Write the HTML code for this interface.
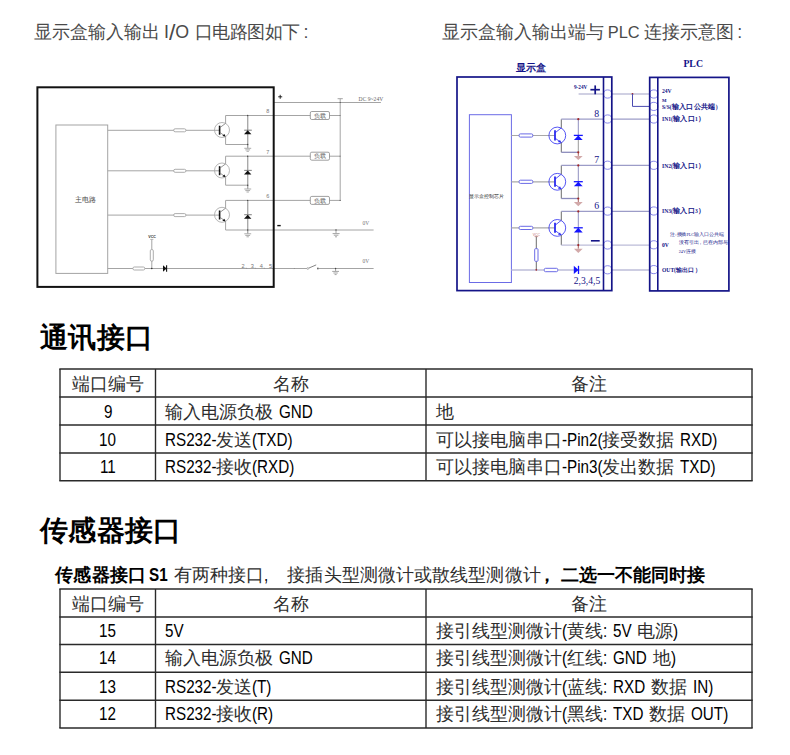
<!DOCTYPE html>
<html><head><meta charset="utf-8">
<style>
html,body{margin:0;padding:0;background:#fff;}
body{width:790px;height:755px;position:relative;overflow:hidden;font-family:"Liberation Sans",sans-serif;color:#000;}
.abs{position:absolute;white-space:nowrap;}
.t1{font-size:17.8px;color:#4a4a4a;line-height:20px;}
.h{font-family:"Liberation Serif",serif;font-weight:bold;font-size:28px;line-height:30px;}
.cell{position:absolute;white-space:nowrap;font-size:18px;color:#000;}
.cj{font-family:"Liberation Serif",serif;font-size:18px;color:#2e2e2e;}
.cj.b{color:#000;}
.lw{display:inline-block;vertical-align:baseline;}
.ls{display:inline-block;transform-origin:0 0;font-size:17.5px;}
.b{font-weight:bold;}
svg{position:absolute;left:0;top:0;}
</style></head>
<body>
<svg width="790" height="755" viewBox="0 0 790 755">
<rect x="55.9" y="125" width="51.8" height="148.4" rx="0" stroke="#a4a4a4" stroke-width="1" fill="none"/>
<text x="85.5" y="202.3" font-size="7.2" fill="#444" font-weight="normal" font-family="&quot;Liberation Sans&quot;,sans-serif" text-anchor="middle">主电路</text>
<line x1="107.7" y1="130.3" x2="219.6" y2="130.3" stroke="#a4a4a4" stroke-width="1"/>
<rect x="173.7" y="128.8" width="12.2" height="3" rx="1.4" stroke="#a4a4a4" stroke-width="0.9" fill="#fff"/>
<circle cx="222" cy="130" r="7.5" stroke="#a4a4a4" stroke-width="0.8" fill="none"/>
<line x1="219.6" y1="125.7" x2="219.6" y2="134.7" stroke="#111" stroke-width="1.6"/>
<line x1="219.6" y1="127.8" x2="225.6" y2="123.4" stroke="#777" stroke-width="0.8"/>
<line x1="225.6" y1="123.4" x2="225.6" y2="115.5" stroke="#a4a4a4" stroke-width="1"/>
<line x1="219.6" y1="132.2" x2="225.6" y2="136.6" stroke="#777" stroke-width="0.8"/>
<polygon points="225.6,136.6 222.3,135.9 224.4,134" fill="#111" stroke="none" stroke-width="0"/>
<line x1="225.6" y1="136.6" x2="225.6" y2="144.5" stroke="#a4a4a4" stroke-width="1"/>
<line x1="225.6" y1="115.5" x2="340.2" y2="115.5" stroke="#a4a4a4" stroke-width="1"/>
<line x1="225.6" y1="144.5" x2="247.7" y2="144.5" stroke="#a4a4a4" stroke-width="1"/>
<line x1="247.7" y1="115.5" x2="247.7" y2="148.3" stroke="#aaa" stroke-width="1.4"/>
<line x1="244.2" y1="130.2" x2="251.8" y2="130.2" stroke="#888" stroke-width="1.1"/>
<polygon points="247.7,130.2 244,134.3 251.4,134.3" fill="#111" stroke="none" stroke-width="0"/>
<line x1="244.3" y1="148.3" x2="251.2" y2="148.3" stroke="#aaa" stroke-width="1"/>
<line x1="245.3" y1="149.9" x2="250.1" y2="149.9" stroke="#aaa" stroke-width="1"/>
<line x1="246.5" y1="151.3" x2="248.9" y2="151.3" stroke="#aaa" stroke-width="1"/>
<circle cx="247.7" cy="115.5" r="0.7" stroke="none" stroke-width="0" fill="#444"/>
<circle cx="247.7" cy="144.5" r="0.7" stroke="none" stroke-width="0" fill="#444"/>
<text x="266.3" y="112.9" font-size="5.5" fill="#777" font-weight="normal" font-family="&quot;Liberation Sans&quot;,sans-serif" text-anchor="start">8</text>
<rect x="310.3" y="111.5" width="19.2" height="8" rx="1.5" stroke="#888" stroke-width="0.8" fill="#fff"/>
<text x="319.9" y="117.6" font-size="5.6" fill="#666" font-weight="normal" font-family="&quot;Liberation Sans&quot;,sans-serif" text-anchor="middle">负载</text>
<circle cx="340.2" cy="115.5" r="0.6" stroke="none" stroke-width="0" fill="#444"/>
<line x1="107.7" y1="170.8" x2="219.6" y2="170.8" stroke="#a4a4a4" stroke-width="1"/>
<rect x="173.7" y="169.3" width="12.2" height="3" rx="1.4" stroke="#a4a4a4" stroke-width="0.9" fill="#fff"/>
<circle cx="222" cy="170.5" r="7.5" stroke="#a4a4a4" stroke-width="0.8" fill="none"/>
<line x1="219.6" y1="166.2" x2="219.6" y2="175.2" stroke="#111" stroke-width="1.6"/>
<line x1="219.6" y1="168.3" x2="225.6" y2="163.9" stroke="#777" stroke-width="0.8"/>
<line x1="225.6" y1="163.9" x2="225.6" y2="156.2" stroke="#a4a4a4" stroke-width="1"/>
<line x1="219.6" y1="172.7" x2="225.6" y2="177.1" stroke="#777" stroke-width="0.8"/>
<polygon points="225.6,177.1 222.3,176.4 224.4,174.5" fill="#111" stroke="none" stroke-width="0"/>
<line x1="225.6" y1="177.1" x2="225.6" y2="185.2" stroke="#a4a4a4" stroke-width="1"/>
<line x1="225.6" y1="156.2" x2="340.2" y2="156.2" stroke="#a4a4a4" stroke-width="1"/>
<line x1="225.6" y1="185.2" x2="247.7" y2="185.2" stroke="#a4a4a4" stroke-width="1"/>
<line x1="247.7" y1="156.2" x2="247.7" y2="189" stroke="#aaa" stroke-width="1.4"/>
<line x1="244.2" y1="170.4" x2="251.8" y2="170.4" stroke="#888" stroke-width="1.1"/>
<polygon points="247.7,170.4 244,174.5 251.4,174.5" fill="#111" stroke="none" stroke-width="0"/>
<line x1="244.3" y1="189" x2="251.2" y2="189" stroke="#aaa" stroke-width="1"/>
<line x1="245.3" y1="190.6" x2="250.1" y2="190.6" stroke="#aaa" stroke-width="1"/>
<line x1="246.5" y1="192" x2="248.9" y2="192" stroke="#aaa" stroke-width="1"/>
<circle cx="247.7" cy="156.2" r="0.7" stroke="none" stroke-width="0" fill="#444"/>
<circle cx="247.7" cy="185.2" r="0.7" stroke="none" stroke-width="0" fill="#444"/>
<text x="266.3" y="153.6" font-size="5.5" fill="#777" font-weight="normal" font-family="&quot;Liberation Sans&quot;,sans-serif" text-anchor="start">7</text>
<rect x="310.3" y="152.2" width="19.2" height="8" rx="1.5" stroke="#888" stroke-width="0.8" fill="#fff"/>
<text x="319.9" y="158.3" font-size="5.6" fill="#666" font-weight="normal" font-family="&quot;Liberation Sans&quot;,sans-serif" text-anchor="middle">负载</text>
<circle cx="340.2" cy="156.2" r="0.6" stroke="none" stroke-width="0" fill="#444"/>
<line x1="107.7" y1="215.1" x2="219.6" y2="215.1" stroke="#a4a4a4" stroke-width="1"/>
<rect x="173.7" y="213.6" width="12.2" height="3" rx="1.4" stroke="#a4a4a4" stroke-width="0.9" fill="#fff"/>
<circle cx="222" cy="214.8" r="7.5" stroke="#a4a4a4" stroke-width="0.8" fill="none"/>
<line x1="219.6" y1="210.5" x2="219.6" y2="219.5" stroke="#111" stroke-width="1.6"/>
<line x1="219.6" y1="212.6" x2="225.6" y2="208.2" stroke="#777" stroke-width="0.8"/>
<line x1="225.6" y1="208.2" x2="225.6" y2="200.4" stroke="#a4a4a4" stroke-width="1"/>
<line x1="219.6" y1="217" x2="225.6" y2="221.4" stroke="#777" stroke-width="0.8"/>
<polygon points="225.6,221.4 222.3,220.7 224.4,218.8" fill="#111" stroke="none" stroke-width="0"/>
<line x1="225.6" y1="221.4" x2="225.6" y2="230" stroke="#a4a4a4" stroke-width="1"/>
<line x1="225.6" y1="200.4" x2="340.2" y2="200.4" stroke="#a4a4a4" stroke-width="1"/>
<line x1="225.6" y1="230" x2="373.6" y2="230" stroke="#a4a4a4" stroke-width="1"/>
<line x1="247.7" y1="200.4" x2="247.7" y2="233.8" stroke="#aaa" stroke-width="1.4"/>
<line x1="244.2" y1="214.7" x2="251.8" y2="214.7" stroke="#888" stroke-width="1.1"/>
<polygon points="247.7,214.7 244,218.8 251.4,218.8" fill="#111" stroke="none" stroke-width="0"/>
<line x1="244.3" y1="233.8" x2="251.2" y2="233.8" stroke="#aaa" stroke-width="1"/>
<line x1="245.3" y1="235.4" x2="250.1" y2="235.4" stroke="#aaa" stroke-width="1"/>
<line x1="246.5" y1="236.8" x2="248.9" y2="236.8" stroke="#aaa" stroke-width="1"/>
<circle cx="247.7" cy="200.4" r="0.7" stroke="none" stroke-width="0" fill="#444"/>
<circle cx="247.7" cy="230" r="0.7" stroke="none" stroke-width="0" fill="#444"/>
<text x="266.3" y="197.8" font-size="5.5" fill="#777" font-weight="normal" font-family="&quot;Liberation Sans&quot;,sans-serif" text-anchor="start">6</text>
<rect x="310.3" y="196.4" width="19.2" height="8" rx="1.5" stroke="#888" stroke-width="0.8" fill="#fff"/>
<text x="319.9" y="202.5" font-size="5.6" fill="#666" font-weight="normal" font-family="&quot;Liberation Sans&quot;,sans-serif" text-anchor="middle">负载</text>
<circle cx="340.2" cy="200.4" r="0.6" stroke="none" stroke-width="0" fill="#444"/>
<line x1="340.2" y1="98.7" x2="340.2" y2="200.4" stroke="#a4a4a4" stroke-width="1"/>
<line x1="337.6" y1="98.7" x2="342.8" y2="98.7" stroke="#a4a4a4" stroke-width="1"/>
<line x1="273.7" y1="102.5" x2="380.9" y2="102.5" stroke="#a4a4a4" stroke-width="1"/>
<circle cx="340.2" cy="102.5" r="0.6" stroke="none" stroke-width="0" fill="#444"/>
<text x="358.6" y="101.2" font-size="5.6" fill="#666" font-weight="normal" font-family="&quot;Liberation Serif&quot;,sans-serif" text-anchor="start">DC 9~24V</text>
<line x1="336" y1="229.9" x2="336" y2="233.6" stroke="#a4a4a4" stroke-width="1"/>
<line x1="332.6" y1="233.6" x2="339.6" y2="233.6" stroke="#a4a4a4" stroke-width="1"/>
<line x1="333.8" y1="235.2" x2="338.4" y2="235.2" stroke="#a4a4a4" stroke-width="1"/>
<line x1="335" y1="236.8" x2="337" y2="236.8" stroke="#a4a4a4" stroke-width="1"/>
<circle cx="336" cy="229.9" r="0.7" stroke="none" stroke-width="0" fill="#444"/>
<text x="362.5" y="224.6" font-size="5.5" fill="#777" font-weight="normal" font-family="&quot;Liberation Serif&quot;,sans-serif" text-anchor="start">0V</text>
<line x1="107.7" y1="268.5" x2="306.9" y2="268.5" stroke="#a4a4a4" stroke-width="1"/>
<line x1="318.8" y1="268.5" x2="373.6" y2="268.5" stroke="#a4a4a4" stroke-width="1"/>
<line x1="308.6" y1="268.2" x2="316.2" y2="264.9" stroke="#777" stroke-width="0.9"/>
<circle cx="307.8" cy="268.5" r="0.9" stroke="#888" stroke-width="0.6" fill="#fff"/>
<circle cx="317.9" cy="268.5" r="0.9" stroke="none" stroke-width="0" fill="#666"/>
<circle cx="294.3" cy="268.5" r="0.5" stroke="none" stroke-width="0" fill="#888"/>
<line x1="335.6" y1="268.5" x2="335.6" y2="271.4" stroke="#a4a4a4" stroke-width="1"/>
<line x1="332.2" y1="271.4" x2="339" y2="271.4" stroke="#a4a4a4" stroke-width="1"/>
<line x1="333.4" y1="273" x2="337.8" y2="273" stroke="#a4a4a4" stroke-width="1"/>
<line x1="334.6" y1="274.6" x2="336.6" y2="274.6" stroke="#a4a4a4" stroke-width="1"/>
<circle cx="335.6" cy="268.5" r="0.7" stroke="none" stroke-width="0" fill="#444"/>
<text x="362.5" y="263.2" font-size="5.5" fill="#777" font-weight="normal" font-family="&quot;Liberation Serif&quot;,sans-serif" text-anchor="start">0V</text>
<rect x="132.9" y="267" width="11.9" height="3" rx="1.4" stroke="#a4a4a4" stroke-width="0.9" fill="#fff"/>
<line x1="151.8" y1="239.4" x2="151.8" y2="268.5" stroke="#a4a4a4" stroke-width="1"/>
<line x1="150.2" y1="239.4" x2="153.4" y2="239.4" stroke="#a4a4a4" stroke-width="0.8"/>
<rect x="150.3" y="249.6" width="3" height="11.5" rx="1.2" stroke="#a4a4a4" stroke-width="0.9" fill="#fff"/>
<circle cx="151.8" cy="268.5" r="0.8" stroke="none" stroke-width="0" fill="#333"/>
<text x="152.1" y="237.9" font-size="3.6" fill="#222" font-weight="bold" font-family="&quot;Liberation Sans&quot;,sans-serif" text-anchor="middle">VCC</text>
<polygon points="163,265.3 163,271.8 166.6,268.5" fill="#111" stroke="none" stroke-width="0"/>
<line x1="166.6" y1="265.3" x2="166.6" y2="271.8" stroke="#111" stroke-width="1.1"/>
<text x="241.6" y="267.9" font-size="5.6" fill="#777" font-weight="normal" font-family="&quot;Liberation Sans&quot;,sans-serif" text-anchor="start">2、3、4、5</text>
<line x1="278.2" y1="96.8" x2="282.2" y2="96.8" stroke="#111" stroke-width="0.9"/>
<line x1="280.2" y1="94.8" x2="280.2" y2="98.8" stroke="#111" stroke-width="0.9"/>
<line x1="277.3" y1="225.6" x2="280.7" y2="225.6" stroke="#111" stroke-width="1.4"/>
<rect x="37.4" y="87.3" width="236.3" height="199.6" rx="0" stroke="#111" stroke-width="2" fill="none"/>
<text x="531.3" y="71.2" font-size="9.6" fill="#141488" font-weight="bold" font-family="&quot;Liberation Serif&quot;,sans-serif" text-anchor="middle">显示盒</text>
<text x="693.2" y="67.3" font-size="9.8" fill="#141488" font-weight="bold" font-family="&quot;Liberation Serif&quot;,sans-serif" text-anchor="middle">PLC</text>
<rect x="469.4" y="114.7" width="42" height="167.8" rx="0" stroke="#6b6be6" stroke-width="1" fill="none"/>
<text x="469.4" y="197.8" font-size="4.9" fill="#2a2a2a" font-weight="normal" font-family="&quot;Liberation Sans&quot;,sans-serif" text-anchor="start">显示盒控制芯片</text>
<line x1="511.4" y1="135.5" x2="555" y2="135.5" stroke="#a8a8a8" stroke-width="1.2"/>
<rect x="519.1" y="133.9" width="13.7" height="3.2" rx="1.2" stroke="#6b6be6" stroke-width="1" fill="#fff"/>
<circle cx="557.3" cy="135.5" r="8.4" stroke="#2b2bf0" stroke-width="0.8" fill="none"/>
<line x1="555" y1="130.3" x2="555" y2="140.4" stroke="#2b2bf0" stroke-width="1.8"/>
<line x1="555" y1="132.9" x2="561.3" y2="127.9" stroke="#2b2bf0" stroke-width="0.8"/>
<line x1="561.3" y1="127.9" x2="561.3" y2="119.2" stroke="#6c6c6c" stroke-width="1"/>
<line x1="555" y1="138.1" x2="561.3" y2="142.7" stroke="#2b2bf0" stroke-width="0.8"/>
<polygon points="561.3,142.7 557.8,142.1 560,140" fill="#2b2bf0" stroke="none" stroke-width="0"/>
<line x1="561.3" y1="142.7" x2="561.3" y2="152.3" stroke="#6c6c6c" stroke-width="1"/>
<line x1="561.3" y1="119.2" x2="650" y2="119.2" stroke="#9c9cc8" stroke-width="1.2"/>
<line x1="561.3" y1="152.3" x2="578.3" y2="152.3" stroke="#8c8cbc" stroke-width="1.3"/>
<line x1="578.3" y1="119.2" x2="578.3" y2="135.5" stroke="#8f8fc0" stroke-width="1"/>
<line x1="578.3" y1="135.5" x2="578.3" y2="152.3" stroke="#9a9a9a" stroke-width="1"/>
<line x1="578.3" y1="152.3" x2="578.3" y2="155.9" stroke="#a05050" stroke-width="0.9"/>
<polygon points="578.3,135.4 573.9,140 582.7,140" fill="#1414ff" stroke="none" stroke-width="0"/>
<line x1="573.8" y1="135.4" x2="582.8" y2="135.4" stroke="#1414ff" stroke-width="1.3"/>
<polygon points="573.9,155.9 582.7,155.9 578.3,160.1" fill="#d2a9a9" stroke="none" stroke-width="0"/>
<circle cx="578.3" cy="119.2" r="1.1" stroke="none" stroke-width="0" fill="#a02828"/>
<circle cx="578.3" cy="152.3" r="1.1" stroke="none" stroke-width="0" fill="#a02828"/>
<text x="594.2" y="116.6" font-size="9.8" fill="#141488" font-weight="normal" font-family="&quot;Liberation Serif&quot;,sans-serif" text-anchor="start">8</text>
<line x1="511.4" y1="181.8" x2="555" y2="181.8" stroke="#a8a8a8" stroke-width="1.2"/>
<rect x="519.1" y="180.2" width="13.7" height="3.2" rx="1.2" stroke="#6b6be6" stroke-width="1" fill="#fff"/>
<circle cx="557.3" cy="181.8" r="8.4" stroke="#2b2bf0" stroke-width="0.8" fill="none"/>
<line x1="555" y1="176.6" x2="555" y2="186.7" stroke="#2b2bf0" stroke-width="1.8"/>
<line x1="555" y1="179.2" x2="561.3" y2="174.2" stroke="#2b2bf0" stroke-width="0.8"/>
<line x1="561.3" y1="174.2" x2="561.3" y2="165.4" stroke="#6c6c6c" stroke-width="1"/>
<line x1="555" y1="184.4" x2="561.3" y2="189" stroke="#2b2bf0" stroke-width="0.8"/>
<polygon points="561.3,189 557.8,188.4 560,186.3" fill="#2b2bf0" stroke="none" stroke-width="0"/>
<line x1="561.3" y1="189" x2="561.3" y2="198.5" stroke="#6c6c6c" stroke-width="1"/>
<line x1="561.3" y1="165.4" x2="650" y2="165.4" stroke="#9c9cc8" stroke-width="1.2"/>
<line x1="561.3" y1="198.5" x2="578.3" y2="198.5" stroke="#8c8cbc" stroke-width="1.3"/>
<line x1="578.3" y1="165.4" x2="578.3" y2="181.8" stroke="#8f8fc0" stroke-width="1"/>
<line x1="578.3" y1="181.8" x2="578.3" y2="198.5" stroke="#9a9a9a" stroke-width="1"/>
<line x1="578.3" y1="198.5" x2="578.3" y2="202.1" stroke="#a05050" stroke-width="0.9"/>
<polygon points="578.3,181.7 573.9,186.3 582.7,186.3" fill="#1414ff" stroke="none" stroke-width="0"/>
<line x1="573.8" y1="181.7" x2="582.8" y2="181.7" stroke="#1414ff" stroke-width="1.3"/>
<polygon points="573.9,202.1 582.7,202.1 578.3,206.3" fill="#d2a9a9" stroke="none" stroke-width="0"/>
<circle cx="578.3" cy="165.4" r="1.1" stroke="none" stroke-width="0" fill="#a02828"/>
<circle cx="578.3" cy="198.5" r="1.1" stroke="none" stroke-width="0" fill="#a02828"/>
<text x="594.2" y="162.8" font-size="9.8" fill="#141488" font-weight="normal" font-family="&quot;Liberation Serif&quot;,sans-serif" text-anchor="start">7</text>
<line x1="511.4" y1="227.9" x2="555" y2="227.9" stroke="#a8a8a8" stroke-width="1.2"/>
<rect x="519.1" y="226.3" width="13.7" height="3.2" rx="1.2" stroke="#6b6be6" stroke-width="1" fill="#fff"/>
<circle cx="557.3" cy="227.9" r="8.4" stroke="#2b2bf0" stroke-width="0.8" fill="none"/>
<line x1="555" y1="222.7" x2="555" y2="232.8" stroke="#2b2bf0" stroke-width="1.8"/>
<line x1="555" y1="225.3" x2="561.3" y2="220.3" stroke="#2b2bf0" stroke-width="0.8"/>
<line x1="561.3" y1="220.3" x2="561.3" y2="211.4" stroke="#6c6c6c" stroke-width="1"/>
<line x1="555" y1="230.5" x2="561.3" y2="235.1" stroke="#2b2bf0" stroke-width="0.8"/>
<polygon points="561.3,235.1 557.8,234.5 560,232.4" fill="#2b2bf0" stroke="none" stroke-width="0"/>
<line x1="561.3" y1="235.1" x2="561.3" y2="245.1" stroke="#6c6c6c" stroke-width="1"/>
<line x1="561.3" y1="211.4" x2="650" y2="211.4" stroke="#9c9cc8" stroke-width="1.2"/>
<line x1="561.3" y1="245.1" x2="650" y2="245.1" stroke="#bcbcd8" stroke-width="1.4"/>
<line x1="578.3" y1="211.4" x2="578.3" y2="227.9" stroke="#8f8fc0" stroke-width="1"/>
<line x1="578.3" y1="227.9" x2="578.3" y2="245.1" stroke="#9a9a9a" stroke-width="1"/>
<line x1="578.3" y1="245.1" x2="578.3" y2="248.7" stroke="#a05050" stroke-width="0.9"/>
<polygon points="578.3,227.8 573.9,232.4 582.7,232.4" fill="#1414ff" stroke="none" stroke-width="0"/>
<line x1="573.8" y1="227.8" x2="582.8" y2="227.8" stroke="#1414ff" stroke-width="1.3"/>
<polygon points="573.9,248.7 582.7,248.7 578.3,252.9" fill="#d2a9a9" stroke="none" stroke-width="0"/>
<circle cx="578.3" cy="211.4" r="1.1" stroke="none" stroke-width="0" fill="#a02828"/>
<circle cx="578.3" cy="245.1" r="1.1" stroke="none" stroke-width="0" fill="#a02828"/>
<text x="594.2" y="208.8" font-size="9.8" fill="#141488" font-weight="normal" font-family="&quot;Liberation Serif&quot;,sans-serif" text-anchor="start">6</text>
<line x1="578.6" y1="94" x2="650" y2="94" stroke="#a2a2c8" stroke-width="1.2"/>
<circle cx="632.5" cy="94" r="0.9" stroke="none" stroke-width="0" fill="#a02828"/>
<path d="M632.5 94 V106.4 H650" stroke="#4a4ab0" stroke-width="1" fill="none"/>
<text x="574" y="88.8" font-size="5.2" fill="#141488" font-weight="bold" font-family="&quot;Liberation Serif&quot;,sans-serif" text-anchor="start">9-24V</text>
<line x1="590.4" y1="89.7" x2="599.9" y2="89.7" stroke="#141488" stroke-width="1.7"/>
<line x1="595.2" y1="85.4" x2="595.2" y2="94.3" stroke="#141488" stroke-width="1.7"/>
<line x1="590.9" y1="240.8" x2="599.7" y2="240.8" stroke="#141488" stroke-width="1.6"/>
<text x="536.4" y="235.6" font-size="3.4" fill="#c07070" font-weight="normal" font-family="&quot;Liberation Sans&quot;,sans-serif" text-anchor="middle">VCC</text>
<line x1="534.6" y1="236.6" x2="538.2" y2="236.6" stroke="#c07070" stroke-width="0.7"/>
<line x1="536.3" y1="236.6" x2="536.3" y2="269.8" stroke="#6c6c6c" stroke-width="1"/>
<rect x="534.7" y="248.7" width="3.3" height="12.6" rx="0.8" stroke="#6b6be6" stroke-width="1" fill="#fff"/>
<line x1="511.4" y1="270" x2="650" y2="270" stroke="#bcbcd8" stroke-width="1.4"/>
<rect x="544.3" y="268.3" width="13.4" height="3.4" rx="1.2" stroke="#6b6be6" stroke-width="1" fill="#fff"/>
<polygon points="573.8,265.8 573.8,274 578.5,269.9" fill="#1414ff" stroke="none" stroke-width="0"/>
<line x1="578.5" y1="265.8" x2="578.5" y2="274" stroke="#1414ff" stroke-width="1.3"/>
<circle cx="536.3" cy="269.8" r="0.9" stroke="none" stroke-width="0" fill="#a02828"/>
<text x="573.8" y="284.3" font-size="9.6" fill="#141488" font-weight="normal" font-family="&quot;Liberation Serif&quot;,sans-serif" text-anchor="start">2,3,4,5</text>
<circle cx="607.6" cy="94" r="4.1" stroke="#6b6be6" stroke-width="0.8" fill="#fff"/>
<circle cx="607.6" cy="119" r="4.1" stroke="#6b6be6" stroke-width="0.8" fill="#fff"/>
<circle cx="607.6" cy="165.2" r="4.1" stroke="#6b6be6" stroke-width="0.8" fill="#fff"/>
<circle cx="607.6" cy="211.1" r="4.1" stroke="#6b6be6" stroke-width="0.8" fill="#fff"/>
<circle cx="607.6" cy="245" r="4.1" stroke="#6b6be6" stroke-width="0.8" fill="#fff"/>
<circle cx="607.6" cy="269.8" r="4.1" stroke="#6b6be6" stroke-width="0.8" fill="#fff"/>
<circle cx="653.8" cy="94" r="4.1" stroke="#6b6be6" stroke-width="0.8" fill="#fff"/>
<circle cx="653.8" cy="106.4" r="4.1" stroke="#6b6be6" stroke-width="0.8" fill="#fff"/>
<circle cx="653.8" cy="119" r="4.1" stroke="#6b6be6" stroke-width="0.8" fill="#fff"/>
<circle cx="653.8" cy="165.3" r="4.1" stroke="#6b6be6" stroke-width="0.8" fill="#fff"/>
<circle cx="653.8" cy="211" r="4.1" stroke="#6b6be6" stroke-width="0.8" fill="#fff"/>
<circle cx="653.8" cy="244.8" r="4.1" stroke="#6b6be6" stroke-width="0.8" fill="#fff"/>
<circle cx="653.8" cy="269.6" r="4.1" stroke="#6b6be6" stroke-width="0.8" fill="#fff"/>
<rect x="457" y="77" width="154.8" height="213.6" rx="0" stroke="#141488" stroke-width="1.7" fill="none"/>
<line x1="603.5" y1="77" x2="603.5" y2="290.6" stroke="#141488" stroke-width="1.6"/>
<rect x="649.7" y="77.4" width="79.2" height="213.5" rx="0" stroke="#141488" stroke-width="1.7" fill="none"/>
<line x1="657.8" y1="77.4" x2="657.8" y2="290.9" stroke="#141488" stroke-width="1.6"/>
<text x="662" y="93.2" fill="#141488" font-weight="bold" font-family="&quot;Liberation Serif&quot;,serif"><tspan font-size="5.6">24V</tspan></text>
<text x="662" y="101.6" fill="#141488" font-weight="bold" font-family="&quot;Liberation Serif&quot;,serif"><tspan font-size="4.8">M</tspan></text>
<text x="662" y="108.6" fill="#141488" font-weight="bold" font-family="&quot;Liberation Serif&quot;,serif"><tspan font-size="5.6">S/S(</tspan><tspan font-size="7" letter-spacing="0.35">输入口公共端</tspan><tspan font-size="5.6">)</tspan></text>
<text x="662" y="121.3" fill="#141488" font-weight="bold" font-family="&quot;Liberation Serif&quot;,serif"><tspan font-size="5.6">IN1(</tspan><tspan font-size="7" letter-spacing="0.35">输入口</tspan><tspan font-size="5.6">1</tspan><tspan font-size="7" letter-spacing="0.35">）</tspan></text>
<text x="662" y="167.6" fill="#141488" font-weight="bold" font-family="&quot;Liberation Serif&quot;,serif"><tspan font-size="5.6">IN2(</tspan><tspan font-size="7" letter-spacing="0.35">输入口</tspan><tspan font-size="5.6">1</tspan><tspan font-size="7" letter-spacing="0.35">）</tspan></text>
<text x="662" y="213.2" fill="#141488" font-weight="bold" font-family="&quot;Liberation Serif&quot;,serif"><tspan font-size="5.6">IN3(</tspan><tspan font-size="7" letter-spacing="0.35">输入口</tspan><tspan font-size="5.6">3</tspan><tspan font-size="7" letter-spacing="0.35">）</tspan></text>
<text x="662" y="247.0" fill="#141488" font-weight="bold" font-family="&quot;Liberation Serif&quot;,serif"><tspan font-size="5.6">0V</tspan></text>
<text x="662" y="271.8" fill="#141488" font-weight="bold" font-family="&quot;Liberation Serif&quot;,serif"><tspan font-size="5.6">OUT(</tspan><tspan font-size="5.8" letter-spacing="0.2">输出口）</tspan></text>
<text x="670.4" y="235.6" fill="#141488" font-weight="normal" font-family="&quot;Liberation Serif&quot;,serif"><tspan font-size="5" letter-spacing="-0.05">注</tspan><tspan font-size="4.2">:</tspan><tspan font-size="5" letter-spacing="-0.05">接插</tspan><tspan font-size="4.2">PLC</tspan><tspan font-size="5" letter-spacing="-0.05">输入口公共端</tspan></text>
<text x="678.7" y="243.9" fill="#141488" font-weight="normal" font-family="&quot;Liberation Serif&quot;,serif"><tspan font-size="5" letter-spacing="-0.05">没有引出，已在内部与</tspan></text>
<text x="678.7" y="252.5" fill="#141488" font-weight="normal" font-family="&quot;Liberation Serif&quot;,serif"><tspan font-size="4.2">24V</tspan><tspan font-size="5" letter-spacing="-0.05">连接</tspan></text>
<line x1="59.3" y1="369" x2="752.7" y2="369" stroke="#2a2a2a" stroke-width="1.4"/>
<line x1="59.3" y1="397" x2="752.7" y2="397" stroke="#2a2a2a" stroke-width="1.4"/>
<line x1="59.3" y1="425" x2="752.7" y2="425" stroke="#2a2a2a" stroke-width="1.4"/>
<line x1="59.3" y1="453" x2="752.7" y2="453" stroke="#2a2a2a" stroke-width="1.4"/>
<line x1="59.3" y1="480.7" x2="752.7" y2="480.7" stroke="#2a2a2a" stroke-width="1.4"/>
<line x1="60" y1="369" x2="60" y2="480.7" stroke="#2a2a2a" stroke-width="1.4"/>
<line x1="155.5" y1="369" x2="155.5" y2="480.7" stroke="#2a2a2a" stroke-width="1.4"/>
<line x1="426" y1="369" x2="426" y2="480.7" stroke="#2a2a2a" stroke-width="1.4"/>
<line x1="752" y1="369" x2="752" y2="480.7" stroke="#2a2a2a" stroke-width="1.4"/>
<line x1="59.3" y1="589" x2="752.7" y2="589" stroke="#2a2a2a" stroke-width="1.4"/>
<line x1="59.3" y1="617" x2="752.7" y2="617" stroke="#2a2a2a" stroke-width="1.4"/>
<line x1="59.3" y1="644.5" x2="752.7" y2="644.5" stroke="#2a2a2a" stroke-width="1.4"/>
<line x1="59.3" y1="672.2" x2="752.7" y2="672.2" stroke="#2a2a2a" stroke-width="1.4"/>
<line x1="59.3" y1="700.2" x2="752.7" y2="700.2" stroke="#2a2a2a" stroke-width="1.4"/>
<line x1="59.3" y1="728" x2="752.7" y2="728" stroke="#2a2a2a" stroke-width="1.4"/>
<line x1="60" y1="589" x2="60" y2="728" stroke="#2a2a2a" stroke-width="1.4"/>
<line x1="155.5" y1="589" x2="155.5" y2="728" stroke="#2a2a2a" stroke-width="1.4"/>
<line x1="426" y1="589" x2="426" y2="728" stroke="#2a2a2a" stroke-width="1.4"/>
<line x1="752" y1="589" x2="752" y2="728" stroke="#2a2a2a" stroke-width="1.4"/>
</svg>
<div class="cell" style="left:60.0px;top:369.5px;width:95.5px;text-align:center;line-height:28.0px;"><span class="cj">端口编号</span></div>
<div class="cell" style="left:155.5px;top:369.5px;width:270.5px;text-align:center;line-height:28.0px;"><span class="cj">名称</span></div>
<div class="cell" style="left:426.0px;top:369.5px;width:326.0px;text-align:center;line-height:28.0px;"><span class="cj">备注</span></div>
<div class="cell" style="left:60.0px;top:397.5px;width:95.5px;text-align:center;line-height:28.0px;"><span class="lw" style="width:8.47px"><span class="ls" style="font-size:17.5px;transform:scaleX(0.87)">9</span></span></div>
<div class="cell" style="left:164.5px;top:397.5px;line-height:28.0px;"><span class="cj">输入电源负极</span><span class="lw" style="width:6px"></span><span class="lw" style="width:33.83px"><span class="ls" style="font-size:17.5px;transform:scaleX(0.87)">GND</span></span></div>
<div class="cell" style="left:435.5px;top:397.5px;line-height:28.0px;"><span class="cj">地</span></div>
<div class="cell" style="left:60.0px;top:425.5px;width:95.5px;text-align:center;line-height:28.0px;"><span class="lw" style="width:16.93px"><span class="ls" style="font-size:17.5px;transform:scaleX(0.87)">10</span></span></div>
<div class="cell" style="left:164.5px;top:425.5px;line-height:28.0px;"><span class="lw" style="width:51.62px"><span class="ls" style="font-size:17.5px;transform:scaleX(0.87)">RS232-</span></span><span class="cj">发送</span><span class="lw" style="width:40.59px"><span class="ls" style="font-size:17.5px;transform:scaleX(0.87)">(TXD)</span></span></div>
<div class="cell" style="left:435.5px;top:425.5px;line-height:28.0px;"><span class="cj">可以接电脑串口</span><span class="lw" style="width:40.61px"><span class="ls" style="font-size:17.5px;transform:scaleX(0.87)">-Pin2(</span></span><span class="cj">接受数据</span><span class="lw" style="width:6px"></span><span class="lw" style="width:37.22px"><span class="ls" style="font-size:17.5px;transform:scaleX(0.87)">RXD)</span></span></div>
<div class="cell" style="left:60.0px;top:453.5px;width:95.5px;text-align:center;line-height:27.7px;"><span class="lw" style="width:15.80px"><span class="ls" style="font-size:17.5px;transform:scaleX(0.87)">11</span></span></div>
<div class="cell" style="left:164.5px;top:453.5px;line-height:27.7px;"><span class="lw" style="width:51.62px"><span class="ls" style="font-size:17.5px;transform:scaleX(0.87)">RS232-</span></span><span class="cj">接收</span><span class="lw" style="width:42.29px"><span class="ls" style="font-size:17.5px;transform:scaleX(0.87)">(RXD)</span></span></div>
<div class="cell" style="left:435.5px;top:453.5px;line-height:27.7px;"><span class="cj">可以接电脑串口</span><span class="lw" style="width:40.61px"><span class="ls" style="font-size:17.5px;transform:scaleX(0.87)">-Pin3(</span></span><span class="cj">发出数据</span><span class="lw" style="width:6px"></span><span class="lw" style="width:35.52px"><span class="ls" style="font-size:17.5px;transform:scaleX(0.87)">TXD)</span></span></div>
<div class="cell" style="left:60.0px;top:589.5px;width:95.5px;text-align:center;line-height:28.0px;"><span class="cj">端口编号</span></div>
<div class="cell" style="left:155.5px;top:589.5px;width:270.5px;text-align:center;line-height:28.0px;"><span class="cj">名称</span></div>
<div class="cell" style="left:426.0px;top:589.5px;width:326.0px;text-align:center;line-height:28.0px;"><span class="cj">备注</span></div>
<div class="cell" style="left:60.0px;top:617.5px;width:95.5px;text-align:center;line-height:27.5px;"><span class="lw" style="width:16.93px"><span class="ls" style="font-size:17.5px;transform:scaleX(0.87)">15</span></span></div>
<div class="cell" style="left:164.5px;top:617.5px;line-height:27.5px;"><span class="lw" style="width:18.62px"><span class="ls" style="font-size:17.5px;transform:scaleX(0.87)">5V</span></span></div>
<div class="cell" style="left:435.5px;top:617.5px;line-height:27.5px;"><span class="cj">接引线型测微计</span><span class="lw" style="width:5.07px"><span class="ls" style="font-size:17.5px;transform:scaleX(0.87)">(</span></span><span class="cj">黄线</span><span class="lw" style="width:4.23px"><span class="ls" style="font-size:17.5px;transform:scaleX(0.87)">:</span></span><span class="lw" style="width:6px"></span><span class="lw" style="width:18.62px"><span class="ls" style="font-size:17.5px;transform:scaleX(0.87)">5V</span></span><span class="lw" style="width:6px"></span><span class="cj">电源</span><span class="lw" style="width:5.07px"><span class="ls" style="font-size:17.5px;transform:scaleX(0.87)">)</span></span></div>
<div class="cell" style="left:60.0px;top:645.0px;width:95.5px;text-align:center;line-height:27.7px;"><span class="lw" style="width:16.93px"><span class="ls" style="font-size:17.5px;transform:scaleX(0.87)">14</span></span></div>
<div class="cell" style="left:164.5px;top:645.0px;line-height:27.7px;"><span class="cj">输入电源负极</span><span class="lw" style="width:6px"></span><span class="lw" style="width:33.83px"><span class="ls" style="font-size:17.5px;transform:scaleX(0.87)">GND</span></span></div>
<div class="cell" style="left:435.5px;top:645.0px;line-height:27.7px;"><span class="cj">接引线型测微计</span><span class="lw" style="width:5.07px"><span class="ls" style="font-size:17.5px;transform:scaleX(0.87)">(</span></span><span class="cj">红线</span><span class="lw" style="width:4.23px"><span class="ls" style="font-size:17.5px;transform:scaleX(0.87)">:</span></span><span class="lw" style="width:6px"></span><span class="lw" style="width:33.83px"><span class="ls" style="font-size:17.5px;transform:scaleX(0.87)">GND</span></span><span class="lw" style="width:6px"></span><span class="cj">地</span><span class="lw" style="width:5.07px"><span class="ls" style="font-size:17.5px;transform:scaleX(0.87)">)</span></span></div>
<div class="cell" style="left:60.0px;top:672.7px;width:95.5px;text-align:center;line-height:28.0px;"><span class="lw" style="width:16.93px"><span class="ls" style="font-size:17.5px;transform:scaleX(0.87)">13</span></span></div>
<div class="cell" style="left:164.5px;top:672.7px;line-height:28.0px;"><span class="lw" style="width:51.62px"><span class="ls" style="font-size:17.5px;transform:scaleX(0.87)">RS232-</span></span><span class="cj">发送</span><span class="lw" style="width:19.44px"><span class="ls" style="font-size:17.5px;transform:scaleX(0.87)">(T)</span></span></div>
<div class="cell" style="left:435.5px;top:672.7px;line-height:28.0px;"><span class="cj">接引线型测微计</span><span class="lw" style="width:5.07px"><span class="ls" style="font-size:17.5px;transform:scaleX(0.87)">(</span></span><span class="cj">蓝线</span><span class="lw" style="width:4.23px"><span class="ls" style="font-size:17.5px;transform:scaleX(0.87)">:</span></span><span class="lw" style="width:6px"></span><span class="lw" style="width:32.15px"><span class="ls" style="font-size:17.5px;transform:scaleX(0.87)">RXD</span></span><span class="lw" style="width:6px"></span><span class="cj">数据</span><span class="lw" style="width:6px"></span><span class="lw" style="width:20.29px"><span class="ls" style="font-size:17.5px;transform:scaleX(0.87)">IN)</span></span></div>
<div class="cell" style="left:60.0px;top:700.7px;width:95.5px;text-align:center;line-height:27.8px;"><span class="lw" style="width:16.93px"><span class="ls" style="font-size:17.5px;transform:scaleX(0.87)">12</span></span></div>
<div class="cell" style="left:164.5px;top:700.7px;line-height:27.8px;"><span class="lw" style="width:51.62px"><span class="ls" style="font-size:17.5px;transform:scaleX(0.87)">RS232-</span></span><span class="cj">接收</span><span class="lw" style="width:21.13px"><span class="ls" style="font-size:17.5px;transform:scaleX(0.87)">(R)</span></span></div>
<div class="cell" style="left:435.5px;top:700.7px;line-height:27.8px;"><span class="cj">接引线型测微计</span><span class="lw" style="width:5.07px"><span class="ls" style="font-size:17.5px;transform:scaleX(0.87)">(</span></span><span class="cj">黑线</span><span class="lw" style="width:4.23px"><span class="ls" style="font-size:17.5px;transform:scaleX(0.87)">:</span></span><span class="lw" style="width:6px"></span><span class="lw" style="width:30.45px"><span class="ls" style="font-size:17.5px;transform:scaleX(0.87)">TXD</span></span><span class="lw" style="width:6px"></span><span class="cj">数据</span><span class="lw" style="width:6px"></span><span class="lw" style="width:37.21px"><span class="ls" style="font-size:17.5px;transform:scaleX(0.87)">OUT)</span></span></div>
<div class="abs t1" style="left:34px;top:22px;">显示盒输入输出</div>
<div class="abs t1" style="left:164px;top:22px;">I</div><div class="abs t1" style="left:168.6px;top:22px;transform:scale(1.3,1.2);transform-origin:0 4px;">/</div><div class="abs t1" style="left:175.3px;top:22px;">O</div>
<div class="abs t1" style="left:195px;top:22px;letter-spacing:-0.55px;">口电路图如下</div>
<div class="abs t1" style="left:303.5px;top:22px;">:</div>
<div class="abs t1" style="left:441.5px;top:22px;">显示盒输入输出端与</div>
<div class="abs t1" style="left:607.8px;top:22px;font-size:16.4px;">PLC</div>
<div class="abs t1" style="left:643.7px;top:22px;letter-spacing:0.2px;">连接示意图</div>
<div class="abs t1" style="left:737.3px;top:22px;">:</div>
<div class="abs h" style="left:40px;top:323px;font-size:27.5px;letter-spacing:0.3px;">通讯接口</div>
<div class="abs h" style="left:40px;top:516px;font-size:27.5px;letter-spacing:0.3px;">传感器接口</div>
<div class="cell" style="left:54.8px;top:562px;line-height:26px;"><span class="cj b" style="letter-spacing:0.4px">传感器接口</span></div>
<div class="cell" style="left:149px;top:562px;line-height:26px;font-weight:bold;"><span class="lw" style="width:18.62px"><span class="ls" style="font-size:17.5px;transform:scaleX(0.87)">S1</span></span></div>
<div class="cell" style="left:173.8px;top:562px;line-height:26px;"><span class="cj">有两种接口</span></div>
<div class="cell" style="left:263.5px;top:562px;line-height:26px;"><span class="lw" style="width:4.23px"><span class="ls" style="font-size:17.5px;transform:scaleX(0.87)">,</span></span></div>
<div class="cell" style="left:287.4px;top:562px;line-height:26px;"><span class="cj" style="letter-spacing:0.1px">接插头型测微计或散线型测微计</span></div>
<div class="cell" style="left:538.2px;top:562px;line-height:26px;"><span class="cj b">，</span></div>
<div class="cell" style="left:560.8px;top:562px;line-height:26px;"><span class="cj b" style="letter-spacing:0.1px">二选一不能同时接</span></div>
</body></html>
